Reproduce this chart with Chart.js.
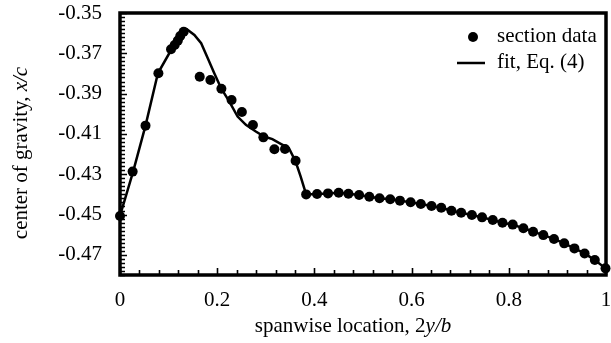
<!DOCTYPE html>
<html>
<head>
<meta charset="utf-8">
<script src="https://cdn.jsdelivr.net/npm/chart.js@4.4.0/dist/chart.umd.min.js"></script>
<style>
  html, body { margin: 0; padding: 0; background: #fff; }
  canvas { display: block; }
</style>
</head>
<body>
<canvas id="cg" width="611" height="343"></canvas>
<script>
// spanwise center of gravity — section data vs fit
const sectionX = [0, 0.026, 0.0525, 0.079, 0.105, 0.1125, 0.119, 0.124, 0.131,
    0.164, 0.186, 0.2086, 0.2296, 0.2508, 0.2735, 0.295, 0.3177, 0.3395, 0.3613,
    0.383, 0.4055, 0.428, 0.450, 0.470, 0.492, 0.513, 0.534, 0.556, 0.576,
    0.598, 0.619, 0.641, 0.661, 0.682, 0.702, 0.724, 0.745, 0.767, 0.787,
    0.808, 0.830, 0.850, 0.871, 0.893, 0.914, 0.935, 0.956, 0.977, 0.999];
const sectionY = [-0.4507, -0.4287, -0.4059, -0.3799, -0.3680, -0.3659, -0.3637, -0.3614, -0.3593,
    -0.3816, -0.3832, -0.3876, -0.3932, -0.3991, -0.4056, -0.4117, -0.4176, -0.4175, -0.4233,
    -0.4400, -0.4398, -0.4395, -0.4392, -0.4397, -0.4403, -0.4412, -0.4419, -0.4424, -0.4431,
    -0.4439, -0.4448, -0.4458, -0.4466, -0.4481, -0.4491, -0.4502, -0.4514, -0.4527, -0.4541,
    -0.4550, -0.4568, -0.4585, -0.4602, -0.4621, -0.4643, -0.4668, -0.4693, -0.4726, -0.4767];

const fitX = [0, 0.027, 0.0525, 0.078, 0.106, 0.1376, 0.153, 0.167, 0.1806, 0.194, 0.208,
    0.225, 0.242, 0.259, 0.2795, 0.2965, 0.3135, 0.3307, 0.3476, 0.3613, 0.3716, 0.383,
    0.4055, 0.428, 0.450, 0.470, 0.492, 0.513, 0.534, 0.556, 0.576,
    0.598, 0.619, 0.641, 0.661, 0.682, 0.702, 0.724, 0.745, 0.767, 0.787,
    0.808, 0.830, 0.850, 0.871, 0.893, 0.914, 0.935, 0.956, 0.977, 0.999];
const fitY = [-0.4507, -0.4287, -0.4059, -0.3799, -0.3680, -0.3581, -0.3609, -0.3650, -0.3725, -0.3799, -0.3873,
    -0.3940, -0.4014, -0.4055, -0.4088, -0.4113, -0.4126, -0.4149, -0.4171, -0.4237, -0.4311, -0.4400,
    -0.4398, -0.4395, -0.4392, -0.4397, -0.4403, -0.4412, -0.4419, -0.4424, -0.4431,
    -0.4439, -0.4448, -0.4458, -0.4466, -0.4481, -0.4491, -0.4502, -0.4514, -0.4527, -0.4541,
    -0.4550, -0.4568, -0.4585, -0.4602, -0.4621, -0.4643, -0.4668, -0.4693, -0.4726, -0.4767];

const xTicks = [0, 0.2, 0.4, 0.6, 0.8, 1];
const yTicks = [-0.35, -0.37, -0.39, -0.41, -0.43, -0.45, -0.47];
const xMinorStep = 0.04;
const yMinorStep = 0.002;

const SERIF = "'Liberation Serif', 'Times New Roman', serif";
const FONT_PX = 21;

// draw a string made of [text, italic] parts, centred on cx
function drawParts(ctx, parts, cx, baseY) {
    const widths = parts.map(p => {
        ctx.font = (p[1] ? 'italic ' : '') + FONT_PX + 'px ' + SERIF;
        return ctx.measureText(p[0]).width;
    });
    let x = cx - widths.reduce((a, b) => a + b, 0) / 2;
    parts.forEach((p, i) => {
        ctx.font = (p[1] ? 'italic ' : '') + FONT_PX + 'px ' + SERIF;
        ctx.fillText(p[0], x, baseY);
        x += widths[i];
    });
}

const framePlugin = {
    id: 'frame',
    afterDraw(chart) {
        const { ctx, chartArea: a, scales } = chart;
        const xs = scales.x, ys = scales.y;
        ctx.save();
        ctx.strokeStyle = '#000';
        ctx.fillStyle = '#000';

        // inward ticks on left and bottom axes
        ctx.lineWidth = 1.6;
        ctx.beginPath();
        for (let i = 0; i <= Math.round((xs.max - xs.min) / xMinorStep); i++) {
            const v = xs.min + i * xMinorStep;
            const px = Math.round(xs.getPixelForValue(v)) + 0.5;
            const major = xTicks.some(t => Math.abs(t - v) < 1e-6);
            ctx.moveTo(px, a.bottom);
            ctx.lineTo(px, a.bottom - (major ? 7 : 5));
        }
        for (let i = 0; i <= Math.round((ys.max - ys.min) / yMinorStep); i++) {
            const v = ys.min + i * yMinorStep;
            const py = Math.round(ys.getPixelForValue(v)) + 0.5;
            const major = yTicks.some(t => Math.abs(t - v) < 1e-6);
            ctx.moveTo(a.left, py);
            ctx.lineTo(a.left + (major ? 7 : 5), py);
        }
        ctx.stroke();

        // plot frame
        ctx.lineWidth = 3.5;
        ctx.strokeRect(a.left, a.top, a.right - a.left, a.bottom - a.top);

        // axis titles
        ctx.textAlign = 'left';
        ctx.textBaseline = 'alphabetic';
        drawParts(ctx, [['spanwise location, 2', false], ['y/b', true]], 353, 332);
        ctx.save();
        ctx.translate(27, 153);
        ctx.rotate(-Math.PI / 2);
        drawParts(ctx, [['center of gravity, ', false], ['x/c', true]], 0, 0);
        ctx.restore();

        // legend
        const ds = chart.data.datasets;
        ctx.beginPath();
        ctx.arc(473, 37, 5, 0, Math.PI * 2);
        ctx.fill();
        ctx.lineWidth = 2.5;
        ctx.beginPath();
        ctx.moveTo(457, 63);
        ctx.lineTo(485, 63);
        ctx.stroke();
        ctx.font = FONT_PX + 'px ' + SERIF;
        ctx.fillText(ds[0].label, 497, 42);
        ctx.fillText(ds[1].label, 497, 68);
        ctx.restore();
    }
};

new Chart(document.getElementById('cg'), {
    type: 'scatter',
    data: {
        datasets: [
            {
                label: 'section data',
                data: sectionX.map((x, i) => ({ x, y: sectionY[i] })),
                showLine: false,
                pointRadius: 5,
                pointBorderWidth: 0,
                pointBackgroundColor: '#000',
                borderColor: '#000',
                clip: false,
                order: 1
            },
            {
                label: 'fit, Eq. (4)',
                data: fitX.map((x, i) => ({ x, y: fitY[i] })),
                showLine: true,
                pointRadius: 0,
                borderColor: '#000',
                borderWidth: 2.5,
                tension: 0,
                order: 2
            }
        ]
    },
    options: {
        responsive: false,
        animation: false,
        layout: { padding: { left: 0, right: 2, top: 13, bottom: 0 } },
        plugins: { legend: { display: false }, tooltip: { enabled: false } },
        scales: {
            x: {
                type: 'linear', min: 0, max: 1,
                grid: { display: false, drawTicks: false },
                border: { display: false },
                afterBuildTicks: s => { s.ticks = xTicks.map(v => ({ value: v })); },
                afterFit: s => { s.height = 68; s.paddingLeft = 0; s.paddingRight = 0; },
                ticks: {
                    padding: 13, color: '#000', maxRotation: 0, autoSkip: false,
                    font: { family: SERIF, size: FONT_PX },
                    callback: v => (v === 0 || v === 1) ? String(v) : v.toFixed(1)
                }
            },
            y: {
                type: 'linear', min: -0.48, max: -0.35,
                grid: { display: false, drawTicks: false },
                border: { display: false },
                afterBuildTicks: s => { s.ticks = yTicks.map(v => ({ value: v })); },
                afterFit: s => { s.width = 120; s.paddingTop = 0; s.paddingBottom = 0; },
                ticks: {
                    padding: 18, color: '#000', autoSkip: false,
                    font: { family: SERIF, size: FONT_PX },
                    callback: v => v.toFixed(2)
                }
            }
        }
    },
    plugins: [framePlugin]
});
</script>
</body>
</html>
